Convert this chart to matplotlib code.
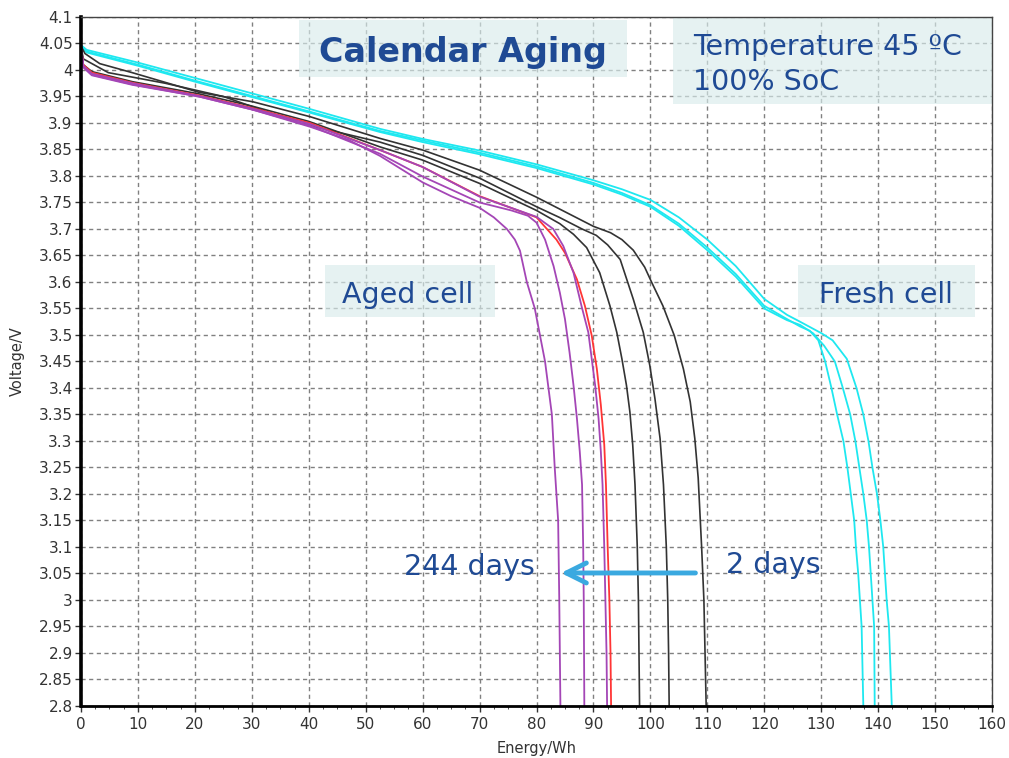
## Libraries
import matplotlib
matplotlib.use("Agg")
import matplotlib.pyplot as plt
from matplotlib.patches import Rectangle
from matplotlib.ticker import MultipleLocator, FuncFormatter

## Data (energy in Wh, voltage in V)

# fresh cell, three discharge curves (cyan)
fresh1_e = [0, 1, 10, 20, 30, 40, 52.5, 60, 70, 80, 90, 95, 100, 105, 110, 115, 120, 124, 126.3, 128,
            129.5, 130.7, 131.8, 132.8, 133.9, 134.6, 135.2, 135.8, 136.1, 136.5, 136.8, 137.1, 137.4]
fresh1_v = [4.045, 4.035, 4.01, 3.98, 3.951, 3.922, 3.885, 3.867, 3.844, 3.818, 3.787, 3.768, 3.745,
            3.71, 3.665, 3.615, 3.555, 3.53, 3.516, 3.508, 3.49, 3.45, 3.40, 3.35, 3.30, 3.25, 3.20,
            3.15, 3.10, 3.05, 3.0, 2.95, 2.8]
fresh2_e = [0, 1, 10, 20, 30, 40, 52.5, 60, 70, 80, 90, 95, 100, 105, 110, 115, 120, 124, 126.3, 128.6,
            130.5, 132.4, 133.8, 135.1, 136.0, 136.7, 137.4, 138.0, 138.4, 138.7, 139.0, 139.3, 139.4]
fresh2_v = [4.045, 4.033, 4.008, 3.978, 3.949, 3.92, 3.883, 3.864, 3.841, 3.815, 3.784, 3.765, 3.742,
            3.706, 3.66, 3.61, 3.55, 3.528, 3.519, 3.503, 3.48, 3.45, 3.40, 3.35, 3.30, 3.25, 3.20,
            3.15, 3.10, 3.05, 3.0, 2.95, 2.8]
fresh3_e = [0, 1, 10, 20, 30, 40, 52.5, 60, 70, 80, 90, 95, 100, 105, 110, 115, 120, 124, 126.3, 130.1,
            132.0, 134.5, 136.2, 137.4, 138.3, 139.0, 139.8, 140.4, 140.9, 141.2, 141.5, 141.9, 142.4]
fresh3_v = [4.047, 4.038, 4.014, 3.985, 3.956, 3.927, 3.889, 3.87, 3.848, 3.822, 3.792, 3.775, 3.755,
            3.722, 3.68, 3.63, 3.568, 3.538, 3.525, 3.503, 3.49, 3.455, 3.40, 3.35, 3.30, 3.25, 3.20,
            3.15, 3.10, 3.05, 3.0, 2.95, 2.8]

# aged cells, black curves (2 days first)
black1_e = [0, 0.7, 3.3, 9, 20.7, 30.2, 40.2, 52.5, 60, 70, 80, 90, 93, 95, 97, 99, 100.2, 102.2,
            104.2, 105.8, 107.0, 107.8, 108.4, 109.0, 109.4, 109.6, 109.8]
black1_v = [4.045, 4.031, 4.012, 3.995, 3.958, 3.94, 3.912, 3.871, 3.849, 3.811, 3.76, 3.705,
            3.693, 3.68, 3.66, 3.628, 3.6, 3.555, 3.499, 3.436, 3.374, 3.305, 3.23, 3.1, 3.0, 2.9, 2.8]
black2_e = [0, 0.4, 4.8, 14.8, 25, 38.3, 52.5, 60, 70, 80, 84, 88, 90.5, 92.5, 94.7, 97.0, 98.75,
            99.9, 100.8, 101.7, 102.3, 102.8, 103.05, 103.2, 103.3]
black2_v = [4.045, 4.021, 3.995, 3.975, 3.95, 3.90, 3.864, 3.839, 3.796, 3.742, 3.722, 3.70,
            3.688, 3.67, 3.6425, 3.5675, 3.505, 3.4425, 3.38, 3.305, 3.2175, 3.1, 3.0, 2.9, 2.8]
black3_e = [0, 0.4, 1.9, 9, 20.7, 30, 40, 52.5, 60, 70, 80, 84.1, 86.5, 88.8, 91.1, 92.9, 94.1,
            95.0, 95.8, 96.4, 96.9, 97.3, 97.7, 97.9, 98.1]
black3_v = [4.045, 4.01, 3.997, 3.978, 3.955, 3.932, 3.903, 3.855, 3.83, 3.786, 3.735, 3.71, 3.69,
            3.665, 3.6175, 3.555, 3.505, 3.455, 3.405, 3.355, 3.2925, 3.2175, 3.1, 3.0, 2.8]

# red curve
red_e = [0, 0.4, 1.9, 9, 20.7, 30.2, 40.2, 52.5, 60, 70, 80, 83.5, 85.0, 87.1, 88.5, 89.7,
         90.6, 91.3, 91.9, 92.2, 92.5, 92.8, 93.0, 93.1]
red_v = [4.045, 4.01, 3.995, 3.976, 3.952, 3.928, 3.90, 3.849, 3.817, 3.762, 3.722, 3.68, 3.655,
         3.605, 3.555, 3.499, 3.436, 3.368, 3.293, 3.2175, 3.1, 3.0, 2.9, 2.8]

# purple curves (244 days is purple1)
purple3_e = [0, 0.4, 1.9, 9, 20.7, 30.2, 40.2, 52.5, 60, 70, 80, 82.95, 84.7, 86.5, 87.9, 89.1,
             89.7, 90.3, 90.9, 91.3, 91.6, 91.9, 92.1, 92.3, 92.4]
purple3_v = [4.045, 4.008, 3.993, 3.975, 3.951, 3.927, 3.898, 3.849, 3.817, 3.761, 3.723, 3.70,
             3.668, 3.6175, 3.555, 3.505, 3.455, 3.405, 3.3425, 3.28, 3.2175, 3.1, 3.0, 2.9, 2.8]
purple2_e = [0, 0.4, 1.9, 9, 20.7, 30.2, 40.2, 52.5, 60, 70, 75.6, 78.5, 80.0, 81.5, 83.0, 84.1,
             85.0, 85.8, 86.5, 87.1, 87.6, 88.0, 88.2, 88.3, 88.4]
purple2_v = [4.045, 4.006, 3.991, 3.973, 3.95, 3.925, 3.895, 3.842, 3.799, 3.75, 3.735, 3.725,
             3.712, 3.68, 3.63, 3.58, 3.53, 3.4675, 3.405, 3.3425, 3.28, 3.2175, 3.1, 3.0, 2.8]
purple1_e = [0, 0.4, 1.9, 9, 20.7, 30.2, 40.2, 47, 52.5, 60, 65, 70, 72.5, 74.8, 76.2, 77.1, 78.3,
             79.7, 80.6, 81.5, 82.1, 82.7, 83.2, 83.5, 83.8, 84.0, 84.2]
purple1_v = [4.045, 4.005, 3.99, 3.972, 3.95, 3.925, 3.893, 3.868, 3.838, 3.788, 3.762, 3.74, 3.722,
             3.70, 3.68, 3.659, 3.60, 3.55, 3.50, 3.45, 3.40, 3.35, 3.25, 3.20, 3.15, 3.0, 2.8]

x_ticks = list(range(0, 161, 10))

## Figure
fig = plt.figure(figsize=(10.09, 7.58), dpi=100)
ax = fig.add_axes([81 / 1009, 1 - 706 / 758, 911 / 1009, 689 / 758])

cyan = "#1ee8f0"
black = "#333333"
purple = "#a446b6"
red = "#ff3535"
txt_blue = "#1f4a94"

for e, v in [(fresh1_e, fresh1_v), (fresh2_e, fresh2_v), (fresh3_e, fresh3_v)]:
    ax.plot(e, v, color=cyan, lw=1.3)
for e, v in [(black1_e, black1_v), (black2_e, black2_v), (black3_e, black3_v)]:
    ax.plot(e, v, color=black, lw=1.2)
ax.plot(red_e, red_v, color=red, lw=1.3)
for e, v in [(purple3_e, purple3_v), (purple2_e, purple2_v), (purple1_e, purple1_v)]:
    ax.plot(e, v, color=purple, lw=1.3)

ax.set_xlim(0, 160)
ax.set_ylim(2.8, 4.1)
ax.set_xticks(x_ticks)
ax.xaxis.set_minor_locator(MultipleLocator(2.5))
ax.yaxis.set_major_locator(MultipleLocator(0.05))
ax.yaxis.set_major_formatter(FuncFormatter(lambda v, p: f"{v:.2f}".rstrip("0").rstrip(".")))

ax.grid(True, which="major", color="#808080", linestyle=(0, (3, 2.5)), linewidth=1.0)
ax.set_axisbelow(True)

ax.tick_params(axis="both", which="major", labelsize=11, labelcolor="#333333",
               color="#333333", direction="out", length=4, width=1)
ax.tick_params(axis="x", which="major", pad=4)
ax.tick_params(axis="x", which="minor", length=2.5, color="#333333")
ax.tick_params(axis="y", which="major", pad=2)

ax.spines["left"].set_linewidth(2.6)
ax.spines["left"].set_color("black")
ax.spines["bottom"].set_linewidth(2.0)
ax.spines["bottom"].set_color("black")
for s in ["top", "right"]:
    ax.spines[s].set_linewidth(1.0)
    ax.spines[s].set_color("#444444")

ax.set_xlabel("Energy/Wh", fontsize=10.5, color="#333333")
ax.set_ylabel("Voltage/V", fontsize=10.5, color="#333333")
ax.xaxis.set_label_coords(0.5, -0.051)
ax.yaxis.set_label_coords(-0.062, 0.5)

## Text boxes
box_kw = dict(facecolor="#d9ecec", edgecolor="none", alpha=0.65, zorder=1)
ax.add_patch(Rectangle((38.3, 3.9868), 57.6, 0.1075, **box_kw))
ax.add_patch(Rectangle((104.0, 3.936), 56.0, 0.164, **box_kw))
ax.add_patch(Rectangle((42.85, 3.534), 29.85, 0.098, **box_kw))
ax.add_patch(Rectangle((125.9, 3.534), 31.1, 0.098, **box_kw))

ax.text(67.1, 4.015, "Calendar Aging", fontsize=24, fontweight="bold", color=txt_blue,
        ha="center", va="baseline", zorder=5)
ax.text(107.5, 4.0283, "Temperature 45 ºC", fontsize=20.5, color=txt_blue,
        ha="left", va="baseline", zorder=5)
ax.text(107.5, 3.9623, "100% SoC", fontsize=20.5, color=txt_blue,
        ha="left", va="baseline", zorder=5)
ax.text(57.4, 3.5604, "Aged cell", fontsize=20.5, color=txt_blue,
        ha="center", va="baseline", zorder=5)
ax.text(141.4, 3.5604, "Fresh cell", fontsize=20.5, color=txt_blue,
        ha="center", va="baseline", zorder=5)
ax.text(68.2, 3.047, "244 days", fontsize=20.5, color=txt_blue,
        ha="center", va="baseline", zorder=5)
ax.text(121.6, 3.0515, "2 days", fontsize=20.5, color=txt_blue,
        ha="center", va="baseline", zorder=5)

ax.annotate("", xy=(83.8, 3.051), xytext=(108.4, 3.051),
            arrowprops=dict(arrowstyle="->,head_length=0.72,head_width=0.36",
                            color="#3aa9e0", lw=3.5, mutation_scale=20), zorder=6)

fig.savefig("out.png", dpi=100)
